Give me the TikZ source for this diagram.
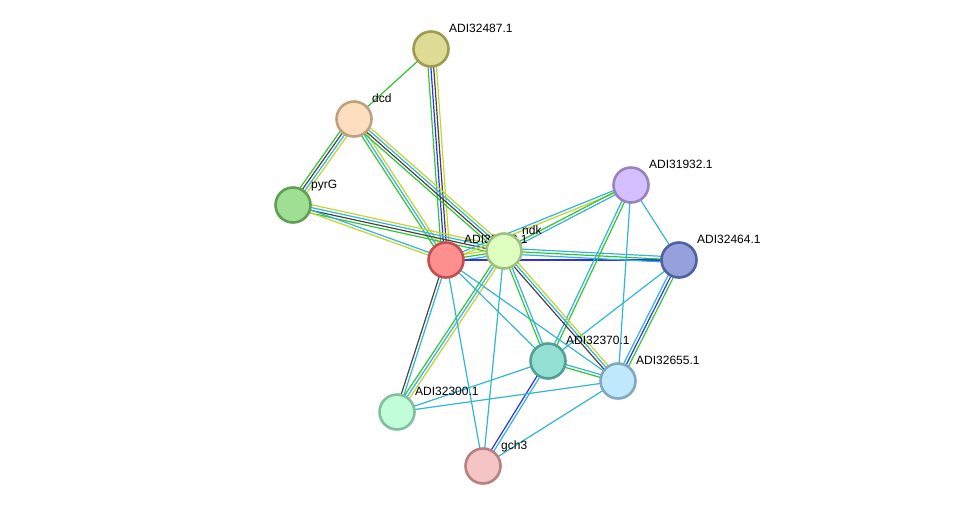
\documentclass[tikz,border=0pt]{standalone}
\usepackage{fontspec}
\setmainfont{Liberation Sans}
\usetikzlibrary{calc,backgrounds}

\definecolor{lgreen}{HTML}{33C433}
\definecolor{lblue}{HTML}{3030F0}
\definecolor{lblack}{HTML}{454545}
\definecolor{lcyan}{HTML}{33B5D5}
\definecolor{lyellow}{HTML}{C0D530}

\tikzset{
  prot/.style={circle, minimum size=35pt, line width=2.6pt, inner sep=0pt},
  lbl/.style={anchor=base west, font=\fontsize{12}{14}\selectfont, inner sep=0pt},
  edge/.style={line width=1.2pt},
}

% parallel lines between two proteins, one per colour
\newcommand{\lnk}[3]{%
  \foreach \col [count=\i] in {#3} {\xdef\nlines{\i}}
  \foreach \col [count=\i] in {#3} {
    \pgfmathsetmacro\off{(\i-(\nlines+1)/2)*2.8}
    \draw[edge, \col] ($(#1.center)!\off pt!90:(#2.center)$) -- ($(#2.center)!\off pt!-90:(#1.center)$);
  }
}

\begin{document}
\begin{tikzpicture}[x=1pt, y=-1pt]
    \useasboundingbox (0,0) rectangle (976,512);

    \node[prot, fill={rgb,255:red,222;green,219;blue,148}, draw={rgb,255:red,158;green,154;blue,82}] (a487) at (431,49) {};
    \node[lbl] at ([shift={(18,-17)}]a487.center) {ADI32487.1};
    \node[prot, fill={rgb,255:red,253;green,223;blue,192}, draw={rgb,255:red,192;green,160;blue,128}] (dcd) at (354,119) {};
    \node[lbl] at ([shift={(18,-17)}]dcd.center) {dcd};
    \node[prot, fill={rgb,255:red,158;green,223;blue,148}, draw={rgb,255:red,94;green,159;blue,82}] (pyrG) at (293,205) {};
    \node[lbl] at ([shift={(18,-17)}]pyrG.center) {pyrG};
    \node[prot, fill={rgb,255:red,253;green,143;blue,143}, draw={rgb,255:red,192;green,80;blue,80}] (a483) at (446,260) {};
    \node[lbl] at ([shift={(18,-17)}]a483.center) {ADI32483.1};
    \node[prot, fill={rgb,255:red,223;green,255;blue,192}, draw={rgb,255:red,160;green,192;blue,128}] (ndk) at (504,251) {};
    \node[lbl] at ([shift={(18,-17)}]ndk.center) {ndk};
    \node[prot, fill={rgb,255:red,212;green,192;blue,253}, draw={rgb,255:red,154;green,130;blue,192}] (a932) at (631,185) {};
    \node[lbl] at ([shift={(18,-17)}]a932.center) {ADI31932.1};
    \node[prot, fill={rgb,255:red,150;green,160;blue,221}, draw={rgb,255:red,80;green,96;blue,160}] (a464) at (679,260) {};
    \node[lbl] at ([shift={(18,-17)}]a464.center) {ADI32464.1};
    \node[prot, fill={rgb,255:red,148;green,223;blue,212}, draw={rgb,255:red,82;green,159;blue,148}] (a370) at (548,361) {};
    \node[lbl] at ([shift={(18,-17)}]a370.center) {ADI32370.1};
    \node[prot, fill={rgb,255:red,192;green,232;blue,253}, draw={rgb,255:red,128;green,168;blue,192}] (a655) at (618,381) {};
    \node[lbl] at ([shift={(18,-17)}]a655.center) {ADI32655.1};
    \node[prot, fill={rgb,255:red,192;green,253;blue,216}, draw={rgb,255:red,128;green,192;blue,154}] (a300) at (397,412) {};
    \node[lbl] at ([shift={(18,-17)}]a300.center) {ADI32300.1};
    \node[prot, fill={rgb,255:red,245;green,196;blue,196}, draw={rgb,255:red,184;green,128;blue,128}] (gch3) at (483,466) {};
    \node[lbl] at ([shift={(18,-17)}]gch3.center) {gch3};

    \begin{scope}[on background layer]
        \lnk{a487}{dcd}{lgreen}
        \lnk{a487}{a483}{lgreen,lblue,lblack,lyellow}
        \lnk{dcd}{pyrG}{lgreen,lblack,lcyan,lyellow}
        \lnk{dcd}{a483}{lgreen,lcyan,lyellow}
        \lnk{dcd}{ndk}{lgreen,lblack,lcyan,lyellow}
        \lnk{pyrG}{ndk}{lgreen,lblack,lcyan,lyellow}
        \lnk{pyrG}{a483}{lyellow,lcyan}
        \lnk{a483}{ndk}{lcyan,lgreen,lyellow}
        \lnk{a483}{a932}{lyellow,lcyan}
        \lnk{ndk}{a932}{lcyan,lgreen}
        \lnk{a483}{a464}{lblue}
        \lnk{ndk}{a464}{lcyan,lgreen,lcyan}
        \lnk{a932}{a464}{lcyan}
        \lnk{a932}{a370}{lcyan,lgreen}
        \lnk{a932}{a655}{lcyan}
        \lnk{a464}{a370}{lcyan}
        \lnk{a464}{a655}{lcyan,lblue,lgreen}
        \lnk{a483}{a300}{lblack,lcyan}
        \lnk{ndk}{a300}{lgreen,lcyan,lyellow}
        \lnk{a483}{gch3}{lcyan}
        \lnk{ndk}{gch3}{lcyan}
        \lnk{a483}{a370}{lcyan}
        \lnk{a483}{a655}{lcyan}
        \lnk{ndk}{a370}{lgreen,lcyan}
        \lnk{ndk}{a655}{lblack,lcyan,lyellow}
        \lnk{a370}{a655}{lgreen,lcyan}
        \lnk{a370}{a300}{lcyan}
        \lnk{a370}{gch3}{lblue,lcyan}
        \lnk{a655}{a300}{lcyan}
        \lnk{a655}{gch3}{lcyan}
    \end{scope}
\end{tikzpicture}
\end{document}
